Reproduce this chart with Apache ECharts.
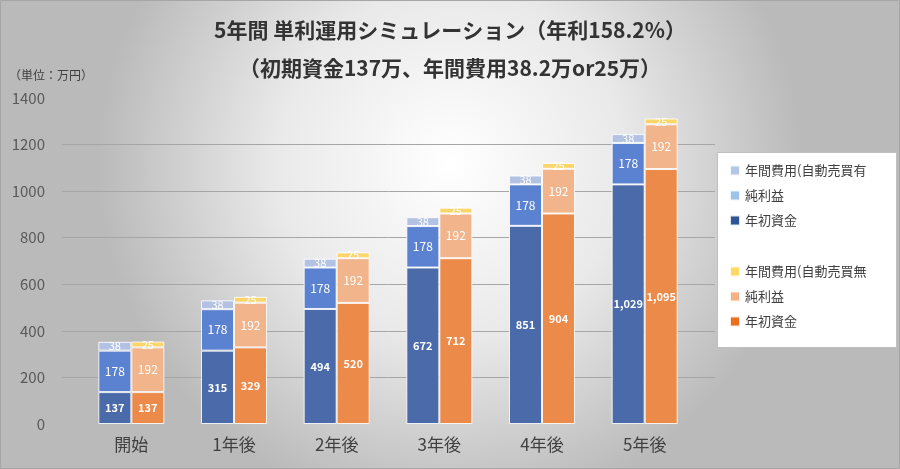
<!DOCTYPE html>
<html>
<head>
<meta charset="utf-8">
<script src="https://cdn.jsdelivr.net/npm/echarts@6/dist/echarts.min.js"></script>
<style>
  html, body { margin: 0; padding: 0; }
  #chart { width: 900px; height: 469px; }
</style>
</head>
<body>
<div id="chart"></div>
<script>
// データ
const categories = ["開始", "1年後", "2年後", "3年後", "4年後", "5年後"];
const yTicks = [0, 200, 400, 600, 800, 1000, 1200, 1400];

// 自動売買有
const startA = [137, 315, 494, 672, 851, 1029];
const profitA = [178, 178, 178, 178, 178, 178];
const costA = [38, 38, 38, 38, 38, 38];

// 自動売買無
const startB = [137, 329, 520, 712, 904, 1095];
const profitB = [192, 192, 192, 192, 192, 192];
const costB = [25, 25, 25, 25, 25, 25];

const FONT = "'Noto Sans CJK JP', 'Noto Sans', sans-serif";

function fmt(p) {
  return p.value.toLocaleString("en-US");
}

function barSeries(name, data, stack, color, label) {
  return {
    name: name,
    type: "bar",
    xAxisIndex: 1,
    yAxisIndex: 1,
    stack: stack,
    barWidth: 33,
    barGap: "0%",
    data: data,
    itemStyle: { color: color, borderColor: "rgba(255,255,255,0.85)", borderWidth: 1 },
    label: Object.assign(
      {
        show: true,
        position: "inside",
        color: "#fff",
        textBorderWidth: 0,
        fontFamily: FONT,
        formatter: fmt,
      },
      label
    ),
  };
}

const chart = echarts.init(document.getElementById("chart"));

const option = {
  animation: false,
  backgroundColor: {
    type: "radial",
    x: 0.5,
    y: 0.35,
    r: 0.75,
    colorStops: [
      { offset: 0, color: "#ffffff" },
      { offset: 0.5, color: "#e9e9e9" },
      { offset: 1, color: "#bababa" },
    ],
  },
  title: [
    {
      text: "5年間 単利運用シミュレーション（年利158.2%）",
      left: "center",
      top: 15,
      textStyle: { fontFamily: FONT, fontSize: 21, fontWeight: "bold", color: "#333" },
    },
    {
      text: "（初期資金137万、年間費用38.2万or25万）",
      left: "center",
      top: 53,
      textStyle: { fontFamily: FONT, fontSize: 21, fontWeight: "bold", color: "#333" },
    },
    {
      text: "（単位：万円）",
      left: 4,
      top: 64,
      textStyle: { fontFamily: FONT, fontSize: 12, fontWeight: "normal", color: "#404040" },
    },
  ],
  graphic: [
    {
      type: "rect",
      shape: { x: 0.5, y: 0.5, width: 899, height: 468 },
      style: { fill: "none", stroke: "#a6a6a6", lineWidth: 1 },
      silent: true,
    },
    {
      type: "rect",
      shape: { x: 717.5, y: 152.5, width: 179, height: 195 },
      style: { fill: "#ffffff", stroke: "#bfbfbf", lineWidth: 1 },
      z: 10,
      silent: true,
    },
  ],
  legend: [
    {
      orient: "vertical",
      left: 724,
      top: 159,
      itemWidth: 10,
      itemHeight: 10,
      itemGap: 12,
      icon: "rect",
      z: 20,
      textStyle: { fontFamily: FONT, fontSize: 13, color: "#404040" },
      data: [
        { name: "年間費用(自動売買有", itemStyle: { color: "#b4c7e7" } },
        { name: "純利益", itemStyle: { color: "#9dc3e6" } },
        { name: "年初資金", itemStyle: { color: "#2f5597" } },
      ],
    },
    {
      orient: "vertical",
      left: 724,
      top: 260,
      itemWidth: 10,
      itemHeight: 10,
      itemGap: 12,
      icon: "rect",
      z: 20,
      textStyle: { fontFamily: FONT, fontSize: 13, color: "#404040" },
      data: [
        { name: "年間費用(自動売買無", itemStyle: { color: "#ffd966" } },
        { name: "純利益 ", itemStyle: { color: "#f4b183" } },
        { name: "年初資金 ", itemStyle: { color: "#e8701e" } },
      ],
    },
  ],
  grid: [
    { left: 62, right: 185, top: 98, bottom: 45 },
    { left: 80, right: 204, top: 98, bottom: 45 },
  ],
  xAxis: [
    { type: "category", gridIndex: 0, data: categories, show: false },
    {
      type: "category",
      gridIndex: 1,
      data: categories,
      axisLine: { show: false },
      axisTick: { show: false },
      axisLabel: { fontFamily: FONT, fontSize: 17, color: "#404040", margin: 12 },
    },
  ],
  yAxis: [
    {
      type: "value",
      gridIndex: 0,
      min: yTicks[0],
      max: yTicks[yTicks.length - 1],
      interval: 200,
      axisLine: { show: false },
      axisTick: { show: false },
      axisLabel: {
        fontFamily: FONT,
        fontSize: 15,
        color: "#595959",
        margin: 17,
        formatter: (v) => String(v),
      },
      splitLine: { showMinLine: false, showMaxLine: false, lineStyle: { color: "#a6a6a6" } },
    },
    {
      type: "value",
      gridIndex: 1,
      min: yTicks[0],
      max: yTicks[yTicks.length - 1],
      interval: 200,
      show: false,
      splitLine: { show: false },
    },
  ],
  series: [
    barSeries("年初資金", startA, "a", "#4a6aa9", { fontSize: 11, fontWeight: "bold" }),
    barSeries("純利益", profitA, "a", "#5b82d0", { fontSize: 12 }),
    barSeries("年間費用(自動売買有", costA, "a", "#b3c2e3", { fontSize: 11 }),
    barSeries("年初資金 ", startB, "b", "#ec8a4a", { fontSize: 11, fontWeight: "bold" }),
    barSeries("純利益 ", profitB, "b", "#f2b48b", { fontSize: 12 }),
    barSeries("年間費用(自動売買無", costB, "b", "#fbd46a", { fontSize: 11 }),
  ],
};

chart.setOption(option);
</script>
</body>
</html>
